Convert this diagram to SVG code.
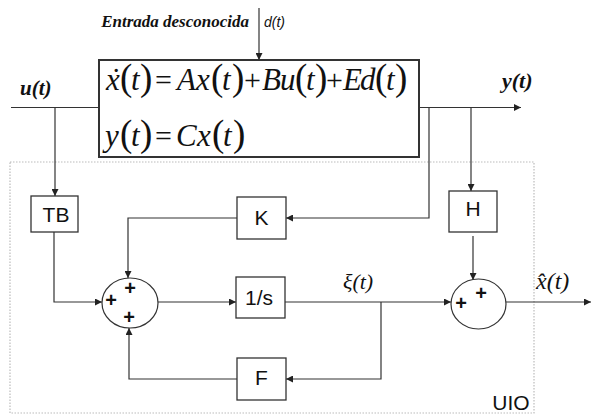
<svg xmlns="http://www.w3.org/2000/svg" width="592" height="416" viewBox="0 0 592 416">
<defs>
<marker id="ah" viewBox="0 0 10 10" refX="10" refY="5" markerWidth="7" markerHeight="7" markerUnits="userSpaceOnUse" orient="auto">
<path d="M0,0 L10,5 L0,10 z" fill="#222"/>
</marker>
<style>
.ln{fill:none;stroke:#333;stroke-width:1.2}
.arr{marker-end:url(#ah)}
.blk{fill:#fff;stroke:#333;stroke-width:1.3}
.bl{font-family:"Liberation Sans",Arial,sans-serif;font-size:21px;fill:#111;text-anchor:middle}
.pl{font-family:"Liberation Sans",Arial,sans-serif;font-size:20px;font-weight:bold;fill:#111;text-anchor:middle}
.eq{font-family:"Liberation Serif","Times New Roman","DejaVu Serif",serif;font-size:31px;fill:#111}
.it{font-style:italic}
.pr{font-size:37px}
.op{font-size:30px}
.lab{font-family:"Liberation Serif","Times New Roman","DejaVu Serif",serif;fill:#111;font-style:italic}
</style>
</defs>
<rect width="592" height="416" fill="#fff"/>

<g id="uio-frame">
<rect x="10" y="162" width="524" height="251" fill="none" stroke="#bbb" stroke-width="1.2" stroke-dasharray="1.5 1.5"/>
<text x="511" y="410" class="bl" font-size="20">UIO</text>
</g>

<g id="connectors">
<path class="ln" d="M11 107.5 H99"/>
<path class="ln arr" d="M55 107.5 V196"/>
<path class="ln arr" d="M259 8 V60"/>
<path class="ln arr" d="M419 107.5 H521"/>
<path class="ln arr" d="M429 107.5 V218 H286"/>
<path class="ln arr" d="M471 107.5 V191"/>
<path class="ln arr" d="M54 232 V302 H102"/>
<path class="ln arr" d="M237 218 H128 V278"/>
<path class="ln arr" d="M158 302 H236"/>
<path class="ln arr" d="M285 302 H451"/>
<path class="ln arr" d="M381 302 V379 H286"/>
<path class="ln arr" d="M237 379 H129 V328"/>
<path class="ln arr" d="M473 236 V280"/>
<path class="ln arr" d="M506 302 H591"/>
</g>

<g id="plant">
<rect x="99" y="60" width="320" height="97" fill="#fff" stroke="#333" stroke-width="2"/>
<text class="eq" y="90"><tspan class="it" x="106">x</tspan><tspan class="pr" x="120">(</tspan><tspan class="it" x="131">t</tspan><tspan class="pr" x="140">)</tspan><tspan class="op" x="155">=</tspan><tspan class="it" x="177">A</tspan><tspan class="it" x="196">x</tspan><tspan class="pr" x="211">(</tspan><tspan class="it" x="222">t</tspan><tspan class="pr" x="232">)</tspan><tspan class="op" x="244">+</tspan><tspan class="it" x="262">B</tspan><tspan class="it" x="280">u</tspan><tspan class="pr" x="295">(</tspan><tspan class="it" x="306">t</tspan><tspan class="pr" x="315">)</tspan><tspan class="op" x="326">+</tspan><tspan class="it" x="343">E</tspan><tspan class="it" x="360">d</tspan><tspan class="pr" x="375">(</tspan><tspan class="it" x="386">t</tspan><tspan class="pr" x="395">)</tspan></text>
<text class="eq" x="111" y="90">˙</text>
<text class="eq" y="146"><tspan class="it" x="105">y</tspan><tspan class="pr" x="120">(</tspan><tspan class="it" x="131">t</tspan><tspan class="pr" x="140">)</tspan><tspan class="op" x="155">=</tspan><tspan class="it" x="176">C</tspan><tspan class="it" x="197">x</tspan><tspan class="pr" x="212">(</tspan><tspan class="it" x="223">t</tspan><tspan class="pr" x="233">)</tspan></text>
</g>

<g id="labels">
<text class="lab" x="249" y="27" font-size="17" font-weight="bold" text-anchor="end">Entrada desconocida</text>
<text x="264" y="27" font-family="'Liberation Sans',Arial,sans-serif" font-size="14" font-style="italic" fill="#111">d(t)</text>
<text class="lab" x="20" y="95" font-size="21" font-weight="bold">u(t)</text>
<text class="lab" x="502" y="88" font-size="22" font-weight="bold">y(t)</text>
<text class="lab" x="343" y="289" font-size="22">ξ(t)</text>
<text class="lab" x="536" y="289" font-size="24">x̂(t)</text>
</g>

<g id="tb"><rect class="blk" x="31" y="196" width="47" height="36"/><text class="bl" x="56" y="222">TB</text></g>
<g id="k"><rect class="blk" x="237" y="197" width="49" height="42"/><text class="bl" x="261.5" y="225">K</text></g>
<g id="h"><rect class="blk" x="449" y="191" width="48" height="41"/><text class="bl" x="473" y="216">H</text></g>
<g id="integrator"><rect class="blk" x="236" y="277" width="49" height="41"/><text class="bl" x="259" y="305">1/s</text></g>
<g id="f"><rect class="blk" x="237" y="358" width="49" height="42"/><text class="bl" x="261.5" y="385">F</text></g>

<g id="sum1">
<ellipse cx="130" cy="303" rx="28" ry="25" fill="#fff" stroke="#333" stroke-width="1.2"/>
<text class="pl" x="130" y="295">+</text>
<text class="pl" x="111" y="307">+</text>
<text class="pl" x="129" y="324">+</text>
</g>
<g id="sum2">
<ellipse cx="478.5" cy="304" rx="27.5" ry="25" fill="#fff" stroke="#333" stroke-width="1.2"/>
<text class="pl" x="461" y="310">+</text>
<text class="pl" x="481" y="300">+</text>
</g>
</svg>
